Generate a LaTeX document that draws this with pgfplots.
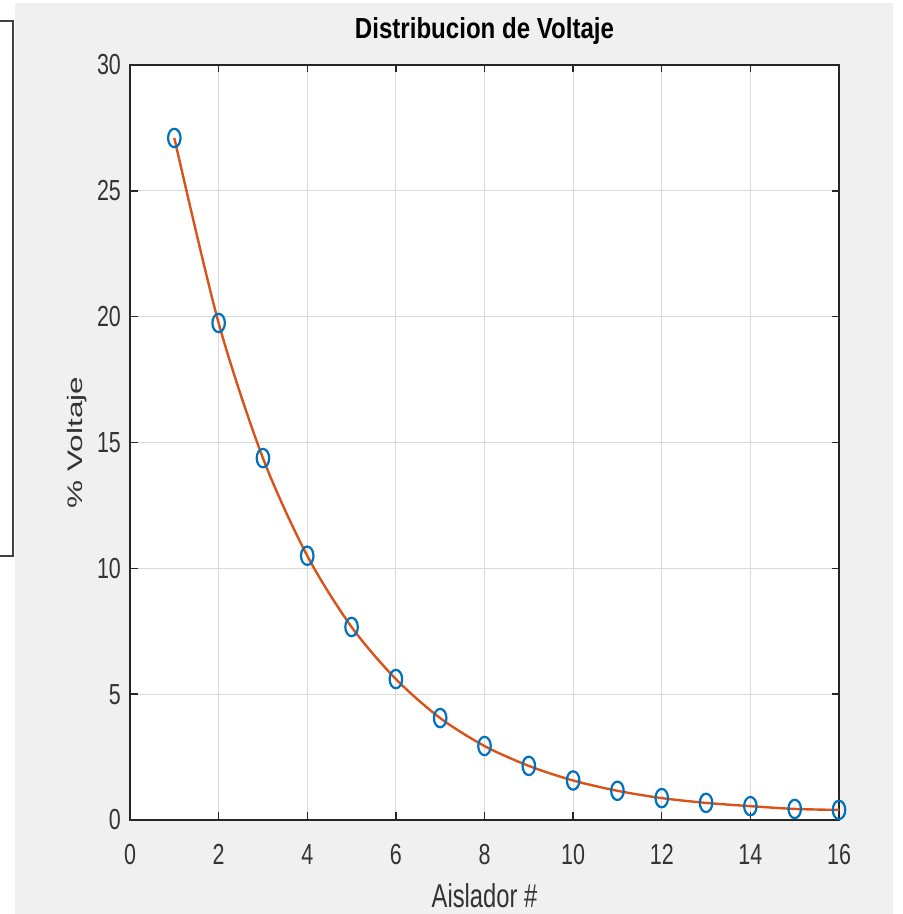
\documentclass[border=0pt]{standalone}
\usepackage{fontspec}
\setmainfont{Liberation Sans}
\newfontfamily\tickfont{Liberation Sans}[FakeStretch=0.74]
\newfontfamily\titlefont{Liberation Sans}[FakeStretch=0.83]
\newfontfamily\xlabfont{Liberation Sans}[FakeStretch=0.72]
\newfontfamily\ylabfont{Liberation Sans}[FakeStretch=1.5]
\usepackage{pgfplots}
\pgfplotsset{compat=1.18}
\definecolor{mblue}{rgb}{0,0.447,0.741}
\definecolor{morange}{rgb}{0.85,0.325,0.098}
\definecolor{mgray}{rgb}{0.94,0.94,0.94}
\definecolor{axcol}{rgb}{0.15,0.15,0.15}
\begin{document}
\begin{tikzpicture}
\useasboundingbox (-65pt,-47pt) rectangle (386pt,410pt);
\fill[mgray] (-57.5pt,-47pt) rectangle (381.5pt,408.5pt);
\draw[line width=0.7pt, black!75] (-66pt,399.5pt) -- (-58.5pt,399.5pt) -- (-58.5pt,132pt) -- (-66pt,132pt);
\begin{axis}[
  at={(0,0)}, anchor=south west,
  scale only axis,
  width=354.5pt, height=377.5pt,
  xmin=0, xmax=16, ymin=0, ymax=30,
  xtick={0,2,...,16}, ytick={0,5,...,30},
  axis background/.style={fill=white},
  axis line style={axcol, line width=0.7pt},
  tick style={axcol, line width=0.7pt},
  major tick length=3.75pt,
  grid=major,
  major grid style={black!15, line width=0.5pt},
  tick label style={font=\tickfont\fontsize{14.5}{16}\selectfont, text=black!80},
  xticklabel style={yshift=-8.5pt},
  yticklabel style={xshift=-1pt},
  /pgf/number format/assume math mode=true,
  title={\titlefont\bfseries\fontsize{14.5}{16}\selectfont Distribucion de Voltaje},
  title style={at={(axis description cs:0.5,1)}, anchor=base, yshift=7pt},
  xlabel={\xlabfont\fontsize{16.5}{18}\selectfont Aislador \#},
  xlabel style={at={(axis description cs:0.5,0)}, anchor=center, yshift=-38pt, text=black!80},
  ylabel={\ylabfont\fontsize{10.5}{12}\selectfont \% Voltaje},
  ylabel style={at={(axis description cs:0,0.5)}, anchor=center, yshift=26.5pt, text=black!80},
]
\addplot[morange, line width=1.2pt, smooth] coordinates {
(1,27.1) (2,19.75) (3,14.38) (4,10.5) (5,7.67) (6,5.60) (7,4.05) (8,2.94) (9,2.15) (10,1.57) (11,1.16) (12,0.87) (13,0.68) (14,0.55) (15,0.44) (16,0.40)
};
\addplot[only marks, mark=o, mark size=4.6pt, mblue, mark options={line width=1.1pt, xscale=0.68}] coordinates {
(1,27.1) (2,19.75) (3,14.38) (4,10.5) (5,7.67) (6,5.60) (7,4.05) (8,2.94) (9,2.15) (10,1.57) (11,1.16) (12,0.87) (13,0.68) (14,0.55) (15,0.44) (16,0.40)
};
\end{axis}
\end{tikzpicture}
\end{document}
